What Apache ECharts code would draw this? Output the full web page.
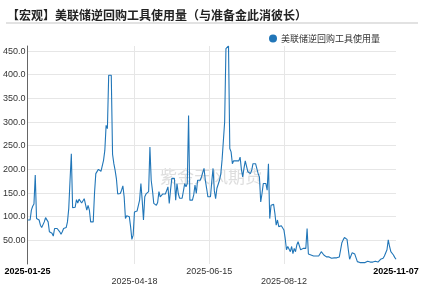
<!DOCTYPE html>
<html>
<head>
<meta charset="utf-8">
<script src="https://cdn.jsdelivr.net/npm/echarts@6/dist/echarts.min.js"></script>
<style>html,body{margin:0;padding:0;background:#fff;}#c{width:424px;height:288px;}</style>
</head>
<body>
<div id="c"></div>
<script>
// Title / legend
const chartTitle = '【宏观】美联储逆回购工具使用量（与准备金此消彼长）';
const seriesName = '美联储逆回购工具使用量';
const watermark = '紫金天风期货';

// Calendar-day range of the x axis
const startDate = '2025-01-25';
const endDate = '2025-11-07';

// Dates that carry an x-axis label
const tickLabels = ['2025-01-25', '2025-04-18', '2025-06-15', '2025-08-12', '2025-11-07'];

// Daily values (one per calendar day from startDate to endDate)
const values = [
  93, 93, 93, 114, 122, 127, 188, 96, 96, 93,
  82, 77, 78, 89, 98, 98, 89, 68, 66, 65,
  59, 75, 75, 75, 75, 68, 63, 68, 75, 75,
  77, 89, 117, 177, 233, 119, 119, 120, 136, 129,
  137, 135, 129, 129, 138, 134, 114, 124, 114, 89,
  89, 89, 150, 191, 192, 200, 196, 196, 197, 219,
  240, 293, 286, 399, 399, 399, 232, 212, 198, 180,
  148, 148, 149, 156, 165, 142, 96, 102, 102, 100,
  79, 52, 61, 110, 112, 112, 112, 135, 170, 135,
  93, 142, 148, 148, 153, 247, 177, 155, 128, 124,
  124, 130, 153, 142, 146, 148, 148, 148, 146, 163,
  128, 156, 181, 181, 181, 135, 170, 149, 139, 139,
  139, 139, 170, 163, 170, 314, 135, 135, 135, 146,
  167, 149, 177, 177, 177, 184, 181, 202, 177, 160,
  142, 142, 142, 174, 202, 155, 138, 160, 163, 177,
  190, 220, 260, 300, 455, 458, 460.7, 244, 237, 212,
  218, 218, 218, 218, 218, 226, 200, 184, 202, 218,
  218, 195, 191, 191, 198, 212, 212, 212, 209, 191,
  184, 131, 149, 170, 170, 170, 156, 212, 96, 124,
  126, 126, 107, 82, 93, 79, 82, 81, 81, 72,
  54, 30, 37, 37, 26, 37, 22, 33, 26, 40,
  47, 47, 30, 33, 33, 33, 33, 75, 21, 19,
  19, 19, 17, 19, 17, 17, 17, 19, 26, 30,
  19, 17, 15, 15, 15, 17, 12, 14, 13, 13,
  13, 13, 15, 30, 45, 51, 56, 56, 52, 30,
  10, 8, 24, 22, 21, 21, 5, 3, 3, 3,
  3, 3, 3, 4, 6, 5, 4, 6, 4, 5,
  6, 5, 4, 5, 10, 10, 12, 17, 19, 30,
  51, 37, 26, 24, 19, 14, 10
];

// Build calendar categories
function fmt(d) {
  const m = String(d.getUTCMonth() + 1).padStart(2, '0');
  const day = String(d.getUTCDate()).padStart(2, '0');
  return d.getUTCFullYear() + '-' + m + '-' + day;
}
const categories = [];
for (let t = Date.parse(startDate + 'T00:00:00Z'); t <= Date.parse(endDate + 'T00:00:00Z'); t += 86400000) {
  categories.push(fmt(new Date(t)));
}

const FONT = 'Arial, "Liberation Sans", "Noto Sans CJK SC", sans-serif';
const chart = echarts.init(document.getElementById('c'), null, { renderer: 'canvas' });
chart.setOption({
  animation: false,
  backgroundColor: '#fff',
  textStyle: { fontFamily: FONT },
  title: {
    text: chartTitle,
    left: 2, top: 4,
    textStyle: { fontSize: 12, fontWeight: 'bold', color: '#222', fontFamily: '"Noto Sans CJK SC", sans-serif' }
  },
  legend: {
    data: [seriesName],
    left: 264, top: 29,
    icon: 'circle', itemWidth: 8, itemHeight: 8, itemGap: 4,
    textStyle: { fontSize: 9, color: '#333', fontFamily: '"Noto Sans CJK SC", sans-serif', padding: [0, 0, 0, -1] }
  },
  graphic: [
    { type: 'line', shape: { x1: 6, y1: 23, x2: 418, y2: 23 }, style: { stroke: '#d9d9d9', lineWidth: 1.5 }, silent: true },
    { type: 'text', left: 160, top: 168, z: -1, silent: true,
      style: { text: watermark, fontSize: 17, fill: 'rgba(200,200,200,0.6)', fontFamily: '"Noto Sans CJK SC", sans-serif' } }
  ],
  grid: { left: 27, right: 28, top: 46, bottom: 24, containLabel: false },
  xAxis: {
    type: 'category',
    data: categories,
    boundaryGap: false,
    axisLine: { show: false },
    axisTick: { show: false },
    splitLine: {
      show: true,
      interval: function (idx, val) { return val === tickLabels[1] || val === tickLabels[2] || val === tickLabels[3]; },
      lineStyle: { color: '#e6e6e6', width: 1 }
    },
    axisLabel: {
      interval: function (idx, val) { return tickLabels.indexOf(val) >= 0; },
      margin: 3,
      fontSize: 9,
      color: '#333',
      lineHeight: 10,
      formatter: function (val) {
        const i = tickLabels.indexOf(val);
        if (i === 0 || i === tickLabels.length - 1) return '{b|' + val + '}';
        if (i % 2 === 1) return '\n' + val;
        return val;
      },
      rich: { b: { fontWeight: 'bold', color: '#000', fontSize: 9, fontFamily: FONT } }
    }
  },
  yAxis: {
    type: 'value',
    min: 0,
    max: 'dataMax',
    interval: 50,
    axisLine: { show: true, lineStyle: { color: '#666', width: 1 } },
    axisTick: { show: false },
    splitLine: { show: true, showMinLine: false, showMaxLine: false, lineStyle: { color: '#e6e6e6', width: 1 } },
    axisLabel: {
      margin: 2,
      fontSize: 9,
      color: '#333',
      showMinLabel: false,
      showMaxLabel: false,
      formatter: function (v) { return v >= 100 ? v.toFixed(1) : v.toFixed(2); }
    }
  },
  series: [{
    name: seriesName,
    type: 'line',
    data: values,
    symbol: 'none',
    showSymbol: false,
    lineStyle: { color: '#2176b8', width: 1.1 },
    itemStyle: { color: '#2176b8' },
    z: 3
  }]
});
</script>
</body>
</html>
